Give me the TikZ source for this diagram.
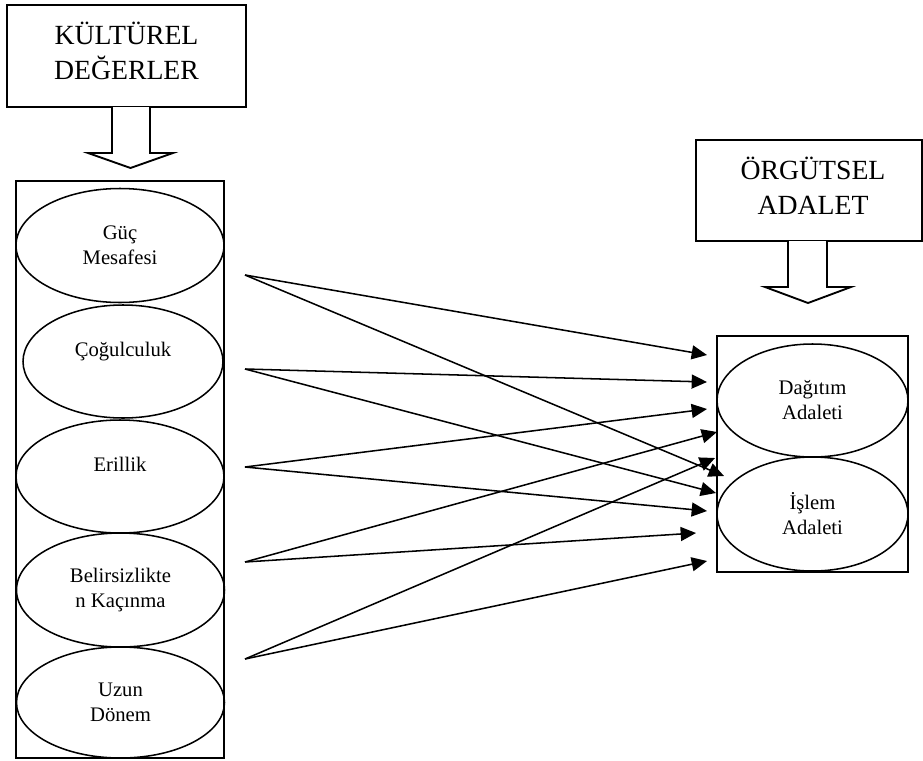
\documentclass[tikz,border=0pt]{standalone}
\usepackage{fontspec}
\setmainfont{Liberation Serif}
\usetikzlibrary{shapes.geometric, arrows.meta}

\begin{document}
\begin{tikzpicture}[x=0.75pt, y=-0.75pt, line width=1.15pt,
    titlebox/.style={draw, line width=1.4pt, minimum width=179.25pt, minimum height=76.5pt},
    titletext/.style={align=center, font=\fontsize{20.8}{26.25}\selectfont},
    listbox/.style={draw, line width=1.4pt},
    item/.style={draw, ellipse, inner sep=0pt, align=center, minimum width=156pt, minimum height=85.5pt,
        font=\fontsize{15.5}{18.75}\selectfont},
    bigarrow/.style={draw, fill=white, line width=1.4pt},
    conn/.style={-{Triangle[length=11.5pt, width=10.5pt]}}]

    \useasboundingbox (0,0) rectangle (923,760);

    % left side
    \node[titlebox] (kultur) at (126.5,56) {};
    \node[titletext] (kulturtext) at (126.5,50.5) {KÜLTÜREL\\DEĞERLER};
    \draw[bigarrow] (112,107) -- (112,153) -- (88,153) -- (130.5,168) -- (173,153) -- (150,153) -- (150,107);

    \node[listbox, minimum width=156pt, minimum height=432.75pt] (boyutlar) at (120,469.5) {};
    \node[item] (guc) at (120,245.5) {Güç\\Mesafesi};
    \node[item, minimum width=150pt, minimum height=84.75pt] (cogul) at (123,361.5) {Çoğulculuk\\~};
    \node[item, minimum height=84.75pt] (eril) at (120,476.5) {Erillik\\~};
    \node[item] (belir) at (120.5,590) {Belirsizlikte\\n Kaçınma};
    \node[item, minimum height=83.25pt] (uzun) at (120.5,702.5) {Uzun\\Dönem};

    % right side
    \node[titlebox, minimum width=169.5pt, minimum height=75.75pt] (orgut) at (809,190.5) {};
    \node[titletext] (orguttext) at (813,185.5) {ÖRGÜTSEL\\ADALET};
    \draw[bigarrow] (788,241) -- (788,287) -- (765,287) -- (808,303) -- (851,287) -- (827,287) -- (827,241);

    \node[listbox, minimum width=143.25pt, minimum height=177pt] (adalet) at (812.5,454) {};
    \node[item, minimum width=143.25pt, minimum height=84.75pt] (dagitim) at (812.5,400.5) {Dağıtım\\Adaleti};
    \node[item, minimum width=143.25pt] (islem) at (812.5,514) {İşlem\\Adaleti};

    % arrow ends
    \coordinate (sg) at (245,275);
    \coordinate (sc) at (245,369);
    \coordinate (se) at (245,467);
    \coordinate (sb) at (245,562);
    \coordinate (su) at (245,659);
    \coordinate (t1) at (707,355);
    \coordinate (t2) at (707,382);
    \coordinate (t3) at (707,409);
    \coordinate (t4) at (717,432);
    \coordinate (t5) at (715,458);
    \coordinate (t6) at (724,476);
    \coordinate (t7) at (716,493);
    \coordinate (t8) at (707,511);
    \coordinate (t9) at (696,533);
    \coordinate (t10) at (707,561);

    \foreach \s/\t in {g/1, g/6, c/2, c/7, e/3, e/8, b/4, b/9, u/5, u/10}
        \draw[conn] (s\s) -- (t\t);
\end{tikzpicture}
\end{document}
